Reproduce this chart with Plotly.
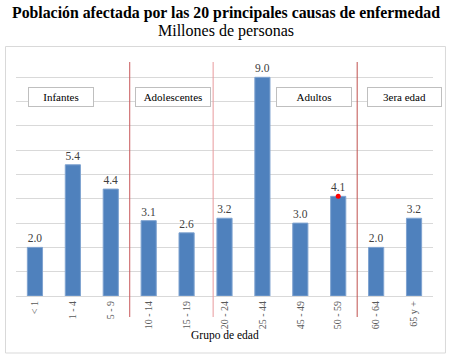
import plotly.graph_objects as go

categories = ["< 1", "1 - 4", "5 - 9", "10 - 14", "15 - 19", "20 - 24", "25 - 44", "45 - 49", "50 - 59", "60 - 64", "65 y +"]
values = [2.0, 5.4, 4.4, 3.1, 2.6, 3.2, 9.0, 3.0, 4.1, 2.0, 3.2]
value_labels = ["2.0", "5.4", "4.4", "3.1", "2.6", "3.2", "9.0", "3.0", "4.1", "2.0", "3.2"]
group_names = ["Infantes", "Adolescentes", "Adultos", "3era edad"]
separator_positions = [2.5, 4.7, 8.5]
separator_colors = ["#C8585A", "#E89A9C", "#C0504D"]

W, H = 455, 357
L, R, T, B = 15.5, 21.5, 53, 61
PW = W - L - R
PH = H - T - B

def px_x(p):
    return (p - L) / PW

def px_y(p):
    return (H - B - p) / PH

serif = "Liberation Serif"

fig = go.Figure()
fig.add_trace(go.Bar(
    x=categories, y=values, text=value_labels, textposition="outside",
    textfont=dict(family=serif, size=11.5, color="#404040"),
    marker=dict(color="#4F81BD", line=dict(color="#7FA3D0", width=1)),
    cliponaxis=False, hoverinfo="skip",
))
# red dot on top of the 50-59 bar
fig.add_trace(go.Scatter(
    x=[categories[8]], y=[values[8]], mode="markers",
    marker=dict(color="#FF0000", size=5), hoverinfo="skip", cliponaxis=False,
))

shapes = []
shapes.append(dict(type="rect", xref="paper", yref="paper",
                   x0=px_x(5), x1=px_x(446), y0=px_y(353), y1=px_y(46.5),
                   line=dict(color="#D9D9D9", width=1), fillcolor="rgba(0,0,0,0)", layer="below"))
for xpos, col in zip(separator_positions, separator_colors):
    shapes.append(dict(type="line", xref="x", yref="paper", x0=xpos, x1=xpos,
                       y0=px_y(317), y1=px_y(62), line=dict(color=col, width=1)))

annotations = [
    dict(text="<b>Población afectada por las 20 principales causas de enfermedad</b>",
         xref="paper", yref="paper", x=px_x(226), y=px_y(13), showarrow=False,
         font=dict(family=serif, size=15.8, color="#000000"), xanchor="center", yanchor="middle"),
    dict(text="Millones de personas",
         xref="paper", yref="paper", x=px_x(226), y=px_y(31), showarrow=False,
         font=dict(family=serif, size=16, color="#000000"), xanchor="center", yanchor="middle"),
    dict(text="Grupo de edad", xref="paper", yref="paper", x=px_x(225), y=px_y(335),
         showarrow=False, font=dict(family=serif, size=11.5, color="#000000"),
         xanchor="center", yanchor="middle"),
]
boxes = [(61, 62), (173, 72), (314, 72), (404.5, 71)]
for name, (cx, w) in zip(group_names, boxes):
    annotations.append(dict(text=name, xref="paper", yref="paper", x=px_x(cx), y=px_y(97),
                            showarrow=False, width=w, height=16, borderpad=1,
                            bordercolor="#BFBFBF", borderwidth=1, bgcolor="#FFFFFF",
                            font=dict(family=serif, size=11, color="#000000"),
                            xanchor="center", yanchor="middle"))

fig.update_layout(
    width=W, height=H, margin=dict(l=L, r=R, t=T, b=B, autoexpand=False),
    paper_bgcolor="white", plot_bgcolor="white", showlegend=False,
    bargap=0.6, shapes=shapes, annotations=annotations,
    xaxis=dict(tickangle=-90, tickfont=dict(family=serif, size=10, color="#595959"),
               showline=True, linecolor="#D9D9D9", linewidth=1, ticks="",
               showgrid=False, fixedrange=True, automargin=False),
    yaxis=dict(range=[0, 10], dtick=1, showticklabels=False, showgrid=True,
               gridcolor="#D9D9D9", gridwidth=1, zeroline=False, fixedrange=True,
               automargin=False),
)
fig.write_html("out.html", config={"displayModeBar": False},
               post_script="document.body.style.margin='0';document.body.style.overflow='hidden';")
